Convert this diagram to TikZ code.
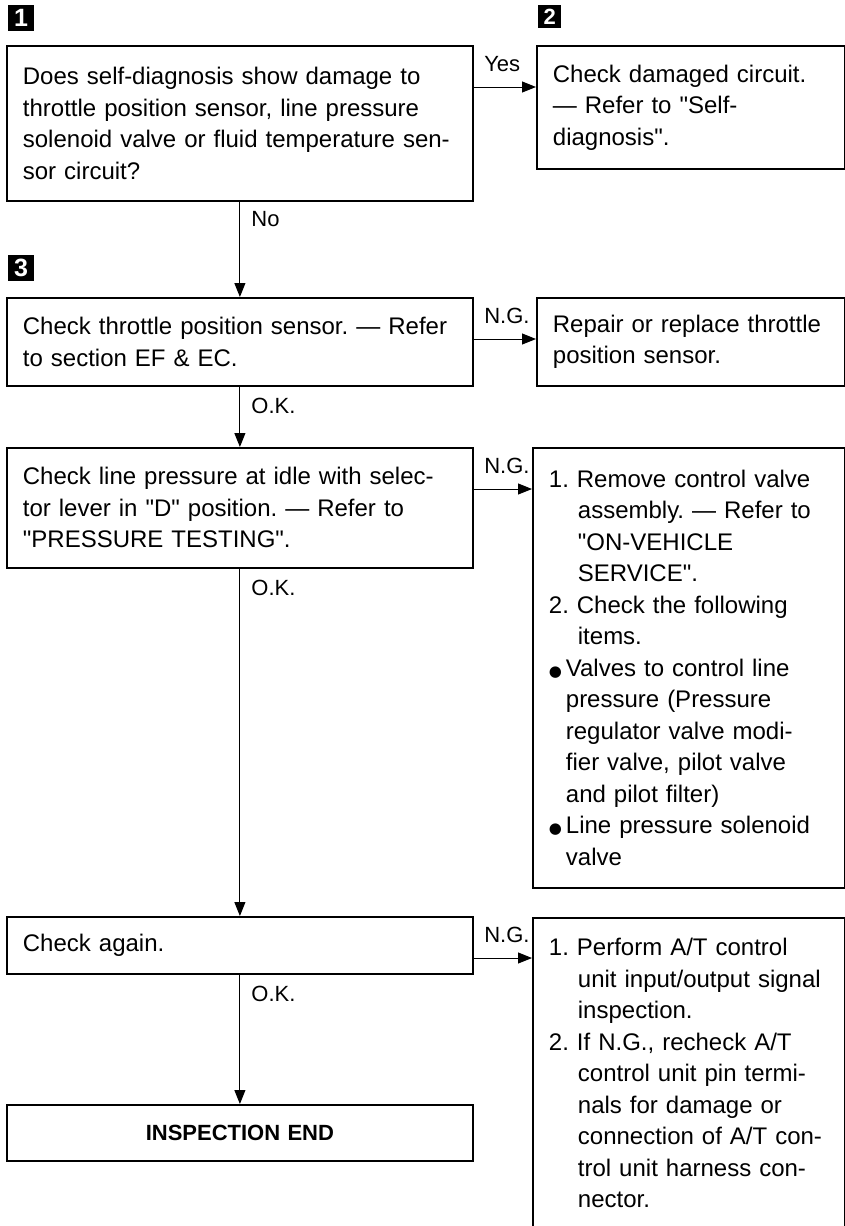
\documentclass[tikz,border=0pt]{standalone}
\usepackage{fontspec}
\setmainfont{Liberation Sans}
\newfontfamily\dejavu{DejaVu Sans}
\usetikzlibrary{arrows.meta, positioning, calc}

\newcommand{\dotitem}{\makebox[17pt][l]{\dejavu\fontsize{15}{15}\selectfont ●}}
\newcommand{\numind}{\hspace*{29pt}}
\newcommand{\qt}{\textquotedbl}
\frenchspacing

\begin{document}
\begin{tikzpicture}[
    x=1pt, y=-1pt,
    font=\fontsize{24}{31.5}\selectfont,
    box/.style={rectangle, draw, line width=1.8pt, anchor=north west, align=left, inner xsep=16pt, inner ysep=0pt},
    stepno/.style={rectangle, fill=black, text=white, font=\fontsize{25}{25}\selectfont\bfseries, minimum size=26pt, inner sep=0pt, anchor=north west},
    arrow/.style={-{Triangle[length=14pt, width=11pt]}, line width=1pt},
    lbl/.style={font=\fontsize{22}{22}\selectfont, inner sep=2pt}
]
\clip (0,0) rectangle (845,1226);

% step numbers
\node[stepno] (s1) at (8,5) {1};
\node[stepno, minimum size=23pt, font=\fontsize{22}{22}\selectfont\bfseries] (s2) at (538,5) {2};
\node[stepno] (s3) at (8,255) {3};

% left column
\node[box, text width=434pt, minimum height=155pt] (diag) at (6,45)
  {Does self-diagnosis show damage to\\ throttle position sensor, line pressure\\ solenoid valve or fluid temperature sen-\\ sor circuit?};
\node[box, text width=434pt, minimum height=88pt] (tps) at (6,297)
  {Check throttle position sensor. --- Refer\\ to section EF \& EC.};
\node[box, text width=434pt, minimum height=120pt] (linepress) at (6,447)
  {Check line pressure at idle with selec-\\ tor lever in \qt D\qt{} position. --- Refer to\\ \qt PRESSURE TESTING\qt.};
\node[box, text width=434pt, minimum height=57pt] (again) at (6,916)
  {Check again.};
\node[box, text width=434pt, minimum height=56pt, align=center, font=\fontsize{22}{26}\selectfont\bfseries] (endbox) at (6,1104)
  {INSPECTION END};

% right column
\node[box, text width=276pt, minimum height=123pt] (damaged) at (536,45)
  {Check damaged circuit.\\ --- Refer to \qt Self-\\ diagnosis\qt.};
\node[box, text width=276pt, minimum height=88pt] (repair) at (536,297)
  {Repair or replace throttle\\ position sensor.};
\node[box, text width=280pt, minimum height=440pt] (valves) at (532,447)
  {1. Remove control valve\\ \numind assembly. --- Refer to\\ \numind \qt ON-VEHICLE\\ \numind SERVICE\qt.\\
   2. Check the following\\ \numind items.\\
   \dotitem Valves to control line\\ \hspace*{17pt}pressure (Pressure\\ \hspace*{17pt}regulator valve modi-\\ \hspace*{17pt}fier valve, pilot valve\\ \hspace*{17pt}and pilot filter)\\
   \dotitem Line pressure solenoid\\ \hspace*{17pt}valve};
\node[box, text width=280pt, minimum height=311pt] (tcu) at (532,917)
  {1. Perform A/T control\\ \numind unit input/output signal\\ \numind inspection.\\
   2. If N.G., recheck A/T\\ \numind control unit pin termi-\\ \numind nals for damage or\\ \numind connection of A/T con-\\ \numind trol unit harness con-\\ \numind nector.};

% connectors
\draw[arrow] ([yshift=-42pt]diag.north east) -- ([yshift=-42pt]diag.north east -| damaged.west)
  node[lbl, pos=0, anchor=south west, xshift=8pt, yshift=13pt] {Yes};
\draw[arrow] (diag.south) -- (tps.north)
  node[lbl, pos=0, anchor=north west, xshift=9pt, yshift=-7pt] {No};
\draw[arrow] ([yshift=-42pt]tps.north east) -- ([yshift=-42pt]tps.north east -| repair.west)
  node[lbl, pos=0, anchor=south west, xshift=8pt, yshift=13pt] {N.G.};
\draw[arrow] (tps.south) -- (linepress.north)
  node[lbl, pos=0, anchor=north west, xshift=9pt, yshift=-9pt] {O.K.};
\draw[arrow] ([yshift=-42pt]linepress.north east) -- ([yshift=-42pt]linepress.north east -| valves.west)
  node[lbl, pos=0, anchor=south west, xshift=8pt, yshift=13pt] {N.G.};
\draw[arrow] (linepress.south) -- (again.north)
  node[lbl, pos=0, anchor=north west, xshift=9pt, yshift=-9pt] {O.K.};
\draw[arrow] ([yshift=-42pt]again.north east) -- ([yshift=-42pt]again.north east -| tcu.west)
  node[lbl, pos=0, anchor=south west, xshift=8pt, yshift=13pt] {N.G.};
\draw[arrow] (again.south) -- (endbox.north)
  node[lbl, pos=0, anchor=north west, xshift=9pt, yshift=-9pt] {O.K.};
\end{tikzpicture}
\end{document}
